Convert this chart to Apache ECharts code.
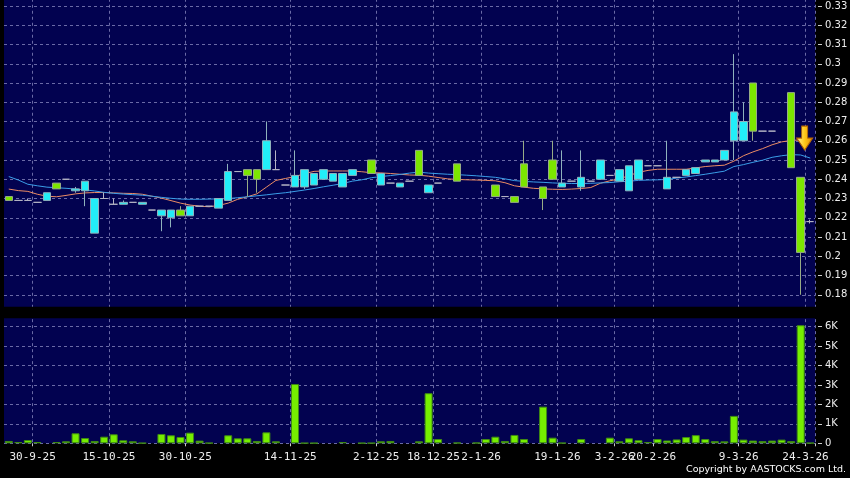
<!DOCTYPE html>
<html>
<head>
<meta charset="utf-8">
<script src="https://cdn.jsdelivr.net/npm/echarts@6/dist/echarts.min.js"></script>
<style>html,body{margin:0;padding:0;background:#000;}#c{width:850px;height:478px;}</style>
</head>
<body>
<div id="c"></div>
<script>
const dates = ['19-9-25','22-9-25','26-9-25','30-9-25','2-10-25','3-10-25','6-10-25','8-10-25','9-10-25','10-10-25','13-10-25',
'15-10-25','16-10-25','17-10-25','20-10-25','22-10-25','23-10-25','24-10-25','28-10-25','30-10-25',
'31-10-25','3-11-25','4-11-25','5-11-25','6-11-25','7-11-25','10-11-25','11-11-25','12-11-25','13-11-25','14-11-25',
'17-11-25','18-11-25','19-11-25','20-11-25','21-11-25','24-11-25','26-11-25','28-11-25','2-12-25',
'4-12-25','5-12-25','9-12-25','12-12-25','16-12-25','18-12-25',
'19-12-25','22-12-25','24-12-25','30-12-25','2-1-26',
'5-1-26','6-1-26','8-1-26','9-1-26','12-1-26','14-1-26','16-1-26','19-1-26',
'21-1-26','23-1-26','27-1-26','30-1-26','2-2-26','3-2-26',
'6-2-26','11-2-26','16-2-26','20-2-26',
'23-2-26','24-2-26','25-2-26','26-2-26','27-2-26','2-3-26','4-3-26','6-3-26','9-3-26',
'10-3-26','11-3-26','12-3-26','13-3-26','17-3-26','20-3-26','24-3-26'];

const tickLabels = ['30-9-25','15-10-25','30-10-25','14-11-25','2-12-25','18-12-25','2-1-26','19-1-26','3-2-26','20-2-26','9-3-26','24-3-26'];

const opens = [.231,.229,.229,.228,.229,.238,.240,.234,.234,.212,.230,.227,.227,.228,.227,.224,.221,.220,.224,.221,
.226,.226,.225,.229,.244,.245,.245,.245,.245,.237,.236,.236,.237,.240,.239,.236,.242,null,.250,.237,
.238,.236,.239,.255,.233,.238,null,.248,null,null,null,.237,.231,.231,.248,null,.236,.250,.236,.239,
.236,.239,.240,.242,.239,.234,.240,.247,.247,.235,.241,.242,.243,.249,.249,.250,.260,.260,.290,.265,
.265,null,.285,.241,.218];
const closes = [.229,.229,.229,.228,.233,.235,.240,.235,.239,.230,.230,.227,.228,.228,.228,.224,.224,.224,.221,.226,
.226,.226,.230,.244,.244,.242,.240,.260,.245,.237,.242,.245,.243,.245,.243,.243,.245,null,.243,.243,
.238,.238,.239,.242,.237,.238,null,.239,null,null,null,.231,.231,.228,.236,null,.230,.240,.238,.239,
.241,.239,.250,.242,.245,.247,.250,.247,.247,.241,.241,.245,.246,.250,.250,.255,.275,.270,.265,.265,
.265,null,.246,.202,.218];
const lows = [.229,.229,.229,.228,.229,.235,.240,.233,.226,.212,.230,.227,.227,.228,.227,.224,.213,.215,.221,.221,
.226,.226,.225,.229,.244,.231,.233,.245,.245,.237,.236,.235,.237,.240,.239,.236,.242,null,.243,.237,
.238,.236,.239,.242,.233,.238,null,.239,null,null,null,.231,.231,.228,.236,null,.224,.240,.236,.239,
.234,.239,.240,.242,.239,.234,.240,.247,.247,.235,.241,.242,.243,.249,.249,.250,.250,.260,.260,.265,
.265,null,.246,.180,.217];
const highs = [.231,.229,.230,.228,.233,.238,.240,.236,.239,.230,.233,.230,.229,.228,.228,.224,.224,.224,.226,.226,
.226,.226,.230,.248,.244,.245,.245,.270,.255,.237,.255,.245,.243,.245,.243,.243,.245,null,.250,.243,
.238,.238,.239,.255,.237,.238,null,.248,null,null,null,.237,.231,.231,.260,null,.236,.260,.255,.239,
.255,.239,.250,.242,.245,.247,.250,.247,.247,.260,.241,.245,.246,.250,.250,.255,.305,.280,.290,.265,
.265,null,.285,.241,.219];

const maShort = [.2349,.2341,.2337,.2322,.2312,.2309,.2316,.2324,.2329,.2331,.2331,.2329,.2327,.2326,.2322,.2312,.2302,.2289,.2276,.2266,
.2260,.2257,.2264,.2276,.2296,.2309,.2324,.2359,.2394,.2404,.2414,.2429,.2441,.2443,.2443,.2443,.2443,.2439,.2434,.2433,
.2430,.2426,.2422,.2421,.2416,.2409,.2402,.2399,.2397,.2396,.2394,.2392,.2382,.2366,.2359,.2353,.2350,.2348,.2347,.2349,
.2352,.2357,.2379,.2392,.2402,.2419,.2436,.2446,.2452,.2452,.2452,.2452,.2459,.2466,.2470,.2473,.2494,.2522,.2542,.2559,
.2579,.2594,.2602,.2604,.2594];
const maLong = [.2414,.2396,.2374,.2366,.2359,.2356,.2353,.2349,.2345,.2339,.2332,.2327,.2323,.2320,.2317,.2312,.2306,.2301,.2297,.2296,
.2296,.2297,.2298,.2300,.2304,.2309,.2314,.2319,.2325,.2330,.2337,.2344,.2352,.2361,.2369,.2378,.2390,.2397,.2408,.2414,
.2419,.2425,.2432,.2437,.2432,.2429,.2426,.2424,.2421,.2418,.2414,.2410,.2402,.2393,.2389,.2386,.2384,.2381,.2379,.2378,
.2378,.2379,.2381,.2383,.2387,.2390,.2394,.2396,.2397,.2399,.2406,.2412,.2419,.2426,.2434,.2442,.2466,.2476,.2488,.2499,
.2514,.2522,.2528,.2526,.2510];

const volumes = [120,67,170,67,null,67,103,515,273,120,340,463,155,103,15,null,480,412,325,548,
137,20,null,412,257,257,120,565,103,null,3050,15,15,null,null,67,null,15,15,103,
120,null,null,103,2575,220,null,30,null,30,220,340,120,430,220,null,1885,290,20,null,
220,null,null,290,103,257,160,65,220,145,200,320,420,220,110,100,1410,190,140,110,
140,190,110,6070,20];

const candles = dates.map((d, i) => opens[i] == null ? '-' : [opens[i], closes[i], lows[i], highs[i]]);
const isTick = (i, v) => tickLabels.indexOf(v) >= 0;

const gridLine = {show: true, interval: isTick, lineStyle: {color: '#6a6aa6', width: 1, type: [3, 3]}};
const hGridLine = {show: true, lineStyle: {color: '#6a6aa6', width: 1, type: [3, 3]}};
const axisTxt = {color: '#eeeeee', fontFamily: 'DejaVu Sans', fontSize: 10};

const chart = echarts.init(document.getElementById('c'), null, {renderer: 'canvas'});
chart.setOption({
  animation: false,
  backgroundColor: '#000000',
  grid: [
    {left: 4, right: 35, top: -13.25, height: 327.25, show: true, backgroundColor: '#020250', borderWidth: 0, containLabel: false, outerBoundsMode: 'none'},
    {left: 4, right: 35, top: 307.15, height: 136.15, show: true, backgroundColor: '#020250', borderWidth: 0, containLabel: false, outerBoundsMode: 'none'}
  ],
  xAxis: [
    {type: 'category', gridIndex: 0, data: dates, axisLine: {show: false}, axisTick: {show: false},
     axisLabel: {show: false}, splitLine: gridLine},
    {type: 'category', gridIndex: 1, data: dates, offset: 3, axisLine: {show: false},
     axisTick: {show: true, interval: isTick, length: 3, lineStyle: {color: '#cccccc'}},
     axisLabel: {show: true, interval: isTick, margin: 5, color: '#eeeeee', fontFamily: 'DejaVu Sans Mono', fontSize: 11, padding: [0, 9.5, 0, 0]},
     splitLine: gridLine}
  ],
  yAxis: [
    {type: 'value', gridIndex: 0, position: 'right', offset: 3, min: 0.17, max: 0.34, interval: 0.01,
     axisLine: {show: false}, axisTick: {show: true, length: 4, lineStyle: {color: '#cccccc'}},
     axisLabel: Object.assign({margin: 7, showMinLabel: false, showMaxLabel: false}, axisTxt),
     splitLine: hGridLine},
    {type: 'value', gridIndex: 1, position: 'right', offset: 3, min: 0, max: 7000, interval: 1000,
     axisLine: {show: false}, axisTick: {show: true, length: 4, lineStyle: {color: '#cccccc'}},
     axisLabel: Object.assign({margin: 7, showMaxLabel: false, formatter: v => v === 0 ? '0' : (v / 1000) + 'K'}, axisTxt),
     splitLine: hGridLine}
  ],
  series: [
    {type: 'line', xAxisIndex: 0, yAxisIndex: 0, data: maShort, symbol: 'none', z: 2,
     lineStyle: {color: '#ec8c64', width: 1}},
    {type: 'line', xAxisIndex: 0, yAxisIndex: 0, data: maLong, symbol: 'none', z: 2,
     lineStyle: {color: '#3a9ee8', width: 1}},
    {type: 'candlestick', xAxisIndex: 0, yAxisIndex: 0, data: candles, barWidth: 8, z: 3,
     itemStyle: {color: '#22eef8', color0: '#7ce600', borderColor: '#8fb2bc', borderColor0: '#98ac86', borderColorDoji: '#b4b4c4', borderWidth: 1},
     markPoint: {
       symbol: 'path://M5,0 L11,0 L11,12 L16,12 L8,24 L0,12 L5,12 Z',
       symbolSize: [16, 24], symbolOffset: [4, 0], silent: true, z: 10,
       label: {show: false},
       itemStyle: {color: {type: 'linear', x: 0, y: 0, x2: 1, y2: 0, colorStops: [
         {offset: 0, color: '#fff4a0'}, {offset: 0.5, color: '#ffc818'}, {offset: 1, color: '#e08800'}]},
         borderColor: '#b86800', borderWidth: 1},
       data: [{coord: [dates[83], 0.2614]}]
     }},
    {type: 'bar', xAxisIndex: 1, yAxisIndex: 1, data: volumes, barWidth: 8,
     itemStyle: {color: '#76ee00', borderColor: '#3f8a14', borderWidth: 1}}
  ],
  graphic: [
    {type: 'rect', z: 100, silent: true, shape: {x: 0, y: 306.7, width: 850, height: 11.6}, style: {fill: '#000000'}},
    {type: 'text', z: 100, right: 4, top: 465, style: {text: 'Copyright by AASTOCKS.com Ltd.', fill: '#ffffff', font: '9.5px "DejaVu Sans"'}}
  ]
});
</script>
</body>
</html>
